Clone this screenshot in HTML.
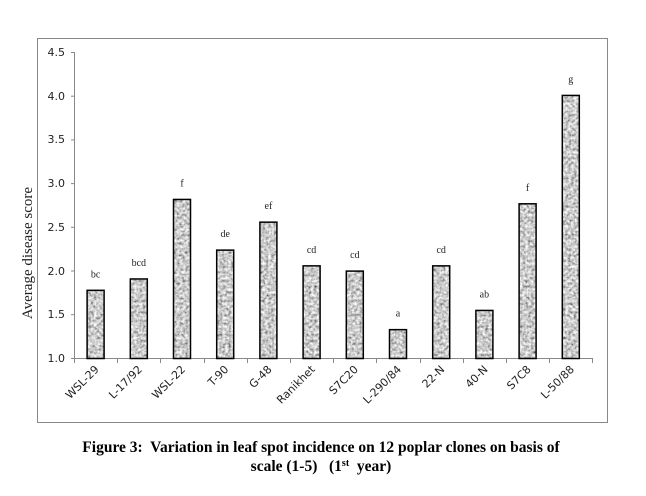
<!DOCTYPE html>
<html><head><meta charset="utf-8"><style>
body{margin:0;background:#fff;width:646px;height:491px;overflow:hidden}
</style></head><body>
<svg width="646" height="491" xmlns="http://www.w3.org/2000/svg">
<defs>
<filter id="tx" x="0" y="0" width="100%" height="100%">
<feTurbulence type="fractalNoise" baseFrequency="0.35" numOctaves="2" seed="3" result="n"/>
<feColorMatrix in="n" type="saturate" values="0" result="g"/>
<feComponentTransfer in="g" result="g2"><feFuncR type="linear" slope="1.8" intercept="-0.3"/><feFuncG type="linear" slope="1.8" intercept="-0.3"/><feFuncB type="linear" slope="1.8" intercept="-0.3"/><feFuncA type="linear" slope="0" intercept="1"/></feComponentTransfer>
<feComposite in="g2" in2="SourceGraphic" operator="in"/>
</filter>
</defs>
<rect x="37.5" y="38.5" width="570" height="384" fill="#fff" stroke="#888" stroke-width="1"/>
<g font-family="Verdana, 'DejaVu Sans', sans-serif" font-size="11" fill="#222" text-anchor="end">
<text x="65" y="56">4.5</text><text x="65" y="100">4.0</text><text x="65" y="143">3.5</text>
<text x="65" y="187">3.0</text><text x="65" y="231">2.5</text><text x="65" y="275">2.0</text>
<text x="65" y="318">1.5</text><text x="65" y="362">1.0</text>
</g>
<g stroke="#888" stroke-width="1">
<line x1="74.5" y1="52" x2="74.5" y2="358"/>
<line x1="71" y1="52.5" x2="74.5" y2="52.5"/><line x1="71" y1="96.2" x2="74.5" y2="96.2"/>
<line x1="71" y1="139.9" x2="74.5" y2="139.9"/><line x1="71" y1="183.6" x2="74.5" y2="183.6"/>
<line x1="71" y1="227.3" x2="74.5" y2="227.3"/><line x1="71" y1="271" x2="74.5" y2="271"/>
<line x1="71" y1="314.7" x2="74.5" y2="314.7"/>
<line x1="71" y1="358.5" x2="593" y2="358.5"/>
</g>
<g id="ticks" stroke="#888"></g>
<g id="bars"></g>
<text transform="translate(32,253) rotate(-90)" text-anchor="middle" font-family="'Liberation Serif',serif" font-size="15" fill="#222">Average disease score</text>
<g font-family="'Liberation Serif',serif" font-size="15.5" font-weight="bold" fill="#000" text-anchor="middle">
<text x="321" y="452">Figure 3:&#160; Variation in leaf spot incidence on 12 poplar clones on basis of</text>
<text x="321" y="471">scale (1-5) &#160;&#160;(1<tspan font-size="10" dy="-5">st</tspan><tspan dy="5">&#160; year)</tspan></text>
</g>
<script>
var vals=[1.78,1.91,2.82,2.24,2.56,2.06,2.00,1.33,2.06,1.55,2.77,4.01];
var labs=["WSL-29","L-17/92","WSL-22","T-90","G-48","Ranikhet","S7C20","L-290/84","22-N","40-N","S7C8","L-50/88"];
var lets=["bc","bcd","f","de","ef","cd","cd","a","cd","ab","f","g"];
var ns="http://www.w3.org/2000/svg",b=document.getElementById("bars"),t=document.getElementById("ticks");
var w=43.2,y0=358.5,k=87.4;
function el(n,a,p){var e=document.createElementNS(ns,n);for(var i in a)e.setAttribute(i,a[i]);p.appendChild(e);return e;}
for(var i=0;i<=12;i++){var x=Math.round(74+i*w)+0.5;el("line",{x1:x,y1:358,x2:x,y2:363},t);}
for(var i=0;i<12;i++){
 var cx=74+w*(i+0.5),h=(vals[i]-1)*k,yt=y0-h;
 el("rect",{x:cx-8.5,y:yt,width:17,height:h,fill:"#9a9a9a",filter:"url(#tx)"},b);
 el("rect",{x:cx-8.5,y:yt,width:17,height:h,fill:"none",stroke:"#000","stroke-width":1.5},b);
 var tx=el("text",{x:cx,y:yt-13,"text-anchor":"middle","font-family":"'Liberation Serif',serif","font-size":"10",fill:"#222"},b);tx.textContent=lets[i];
 var lb=el("text",{transform:"translate("+(cx+4)+",370) rotate(-45)","text-anchor":"end","font-family":"Verdana,'DejaVu Sans',sans-serif","font-size":"11",fill:"#222"},b);lb.textContent=labs[i];
}
</script>
</svg>
</body></html>
